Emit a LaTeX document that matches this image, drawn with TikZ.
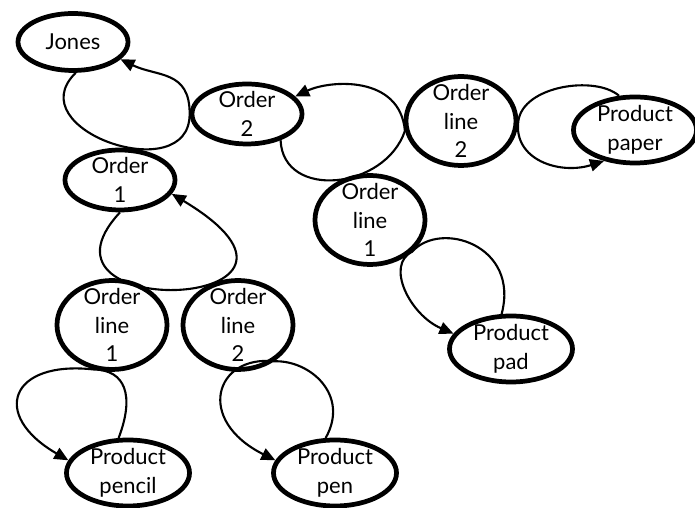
\documentclass[tikz,border=0pt]{standalone}
\usepackage{fontspec}
\setmainfont{Lato}
\usetikzlibrary{arrows.meta, shapes.geometric}

\begin{document}
\begin{tikzpicture}[
	entity/.style={ellipse, draw, line width=2.7pt, inner sep=-12pt, align=center,
		font=\fontsize{12.5}{16.4}\selectfont, minimum width=2.2cm, minimum height=1.2cm},
	lined/.style={entity, minimum height=1.78cm},
	product/.style={entity, minimum width=2.46cm, minimum height=1.32cm},
	link/.style={line width=1.2pt, -{Triangle[length=8pt, width=7pt]}}
]
\useasboundingbox (0, 0) rectangle (13.9, 10.16);

\node[entity, minimum height=1.14cm] (jones) at (1.46, 9.32) {Jones};
\node[entity] (order2) at (4.94, 7.88) {Order\\2};
\node[entity] (order1) at (2.40, 6.56) {Order\\1};
\node[lined] (line22) at (9.22, 7.74) {Order\\line\\2};
\node[product] (paper) at (12.70, 7.56) {Product\\paper};
\node[lined] (line21) at (7.40, 5.76) {Order\\line\\1};
\node[product] (pad) at (10.22, 3.18) {Product\\pad};
\node[lined] (line11) at (2.24, 3.66) {Order\\line\\1};
\node[lined] (line12) at (4.76, 3.66) {Order\\line\\2};
\node[product] (pencil) at (2.56, 0.70) {Product\\pencil};
\node[product] (pen) at (6.70, 0.70) {Product\\pen};

\draw[link] (jones.-85) .. controls (0.34, 7.56) and (3.80, 6.38) .. (order2.west)
	.. controls (3.80, 8.76) and (3.14, 8.62) .. (jones.-20);
\draw[link] (order1.-90) .. controls (0.30, 3.66) and (7.30, 3.96) .. (order1.-15);
\draw[link] (order2.-38) .. controls (5.66, 6.16) and (7.70, 6.36) .. (line22.190)
	.. controls (8.00, 8.66) and (6.60, 8.56) .. (order2.20);
\draw[link] (paper.115) .. controls (11.90, 8.66) and (10.46, 8.44) .. (line22.east)
	.. controls (10.26, 6.96) and (11.20, 6.66) .. (paper.225);
\draw[link] (pad.105) .. controls (10.40, 5.26) and (8.80, 5.76) .. (line21.-37)
	.. controls (7.70, 4.86) and (8.20, 3.86) .. (pad.165);
\draw[link] (pencil.105) .. controls (2.70, 2.26) and (2.50, 2.76) .. (line11.-112)
	.. controls (0.20, 2.96) and (-0.20, 1.86) .. (pencil.168);
\draw[link] (pen.105) .. controls (7.00, 2.26) and (6.20, 2.96) .. (line12.-45)
	.. controls (4.30, 3.06) and (3.90, 1.76) .. (pen.168);
\end{tikzpicture}
\end{document}
